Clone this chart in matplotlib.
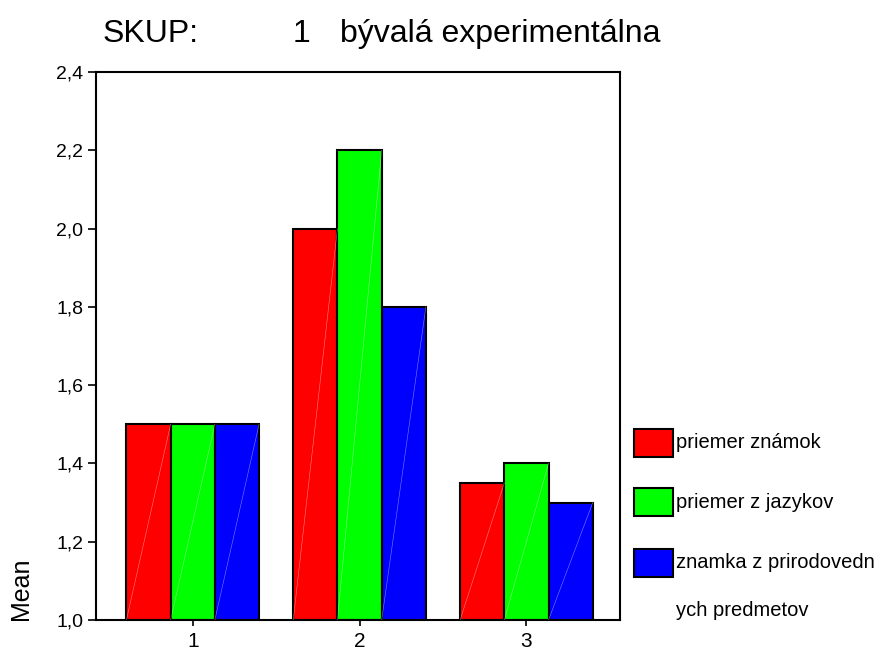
import numpy as np
import matplotlib
matplotlib.use("Agg")
import matplotlib.pyplot as plt
from matplotlib.patches import Rectangle

plt.rcParams['font.family'] = ['Liberation Sans', 'DejaVu Sans']

# data
skupiny = ['1', '2', '3']
serie = ['priemer známok', 'priemer z jazykov', 'znamka z prirodovedn\nych predmetov']
priemer_znamok = [1.50, 2.00, 1.35]
priemer_jazykov = [1.50, 2.20, 1.40]
znamka_prirod = [1.50, 1.80, 1.30]
farby = ['#ff0000', '#00ff00', '#0000ff']
ytick_labels = ['1,0', '1,2', '1,4', '1,6', '1,8', '2,0', '2,2', '2,4']

hodnoty = [priemer_znamok, priemer_jazykov, znamka_prirod]

fig = plt.figure(figsize=(8.91, 6.5), dpi=100)
ax = fig.add_axes([0.1077, 0.0462, 0.588, 0.843])

x = np.arange(1, len(skupiny) + 1)
sirka = 0.265
baza = 1.0
for i, vals in enumerate(hodnoty):
    pos = x + (i - 1) * sirka
    bars = ax.bar(pos, np.array(vals) - baza, sirka, bottom=baza,
                  color=farby[i], edgecolor='black', linewidth=1.5, zorder=2)
    # faint diagonal line inside each bar (like the original export)
    for b in bars:
        x0, y0 = b.get_x(), b.get_y()
        ax.plot([x0, x0 + b.get_width()], [y0, y0 + b.get_height()],
                color='white', lw=0.4, alpha=0.5, zorder=3)

ax.set_xlim(0.42, 3.56)
ax.set_ylim(1.0, 2.4)
ax.set_xticks(x)
ax.set_xticklabels(skupiny, fontsize=15)
ax.set_yticks(np.arange(1.0, 2.41, 0.2))
ax.set_yticklabels(ytick_labels, fontsize=14)
ax.tick_params(axis='y', direction='out', length=6, width=1.2, pad=3)
ax.tick_params(axis='x', direction='out', length=4, width=1.2, pad=5)
for s in ax.spines.values():
    s.set_linewidth(1.5)

fig.text(21 / 891, 1 - 589 / 650, 'Mean', rotation=90, fontsize=18, ha='center', va='center')

fig.text(103 / 891, 0.948, 'SKUP:', fontsize=23, ha='left', va='center')
fig.text(293 / 891, 0.948, '1', fontsize=23, ha='left', va='center')
fig.text(340 / 891, 0.948, 'bývalá experimentálna', fontsize=23, ha='left', va='center')

# legend drawn by hand so that the box aligns with the first line of text
leg_y = [443, 502, 563]
for i, lab in enumerate(serie):
    yc = 1 - leg_y[i] / 650
    r = Rectangle((634 / 891, yc - 14 / 650), 39 / 891, 28 / 650,
                  transform=fig.transFigure, facecolor=farby[i],
                  edgecolor='black', linewidth=1.5)
    fig.add_artist(r)
    for j, riadok in enumerate(lab.split('\n')):
        fig.text(676 / 891, yc - j * 47 / 650, riadok, fontsize=14.5,
                 ha='left', va='center')

fig.savefig('out.png', dpi=100)
